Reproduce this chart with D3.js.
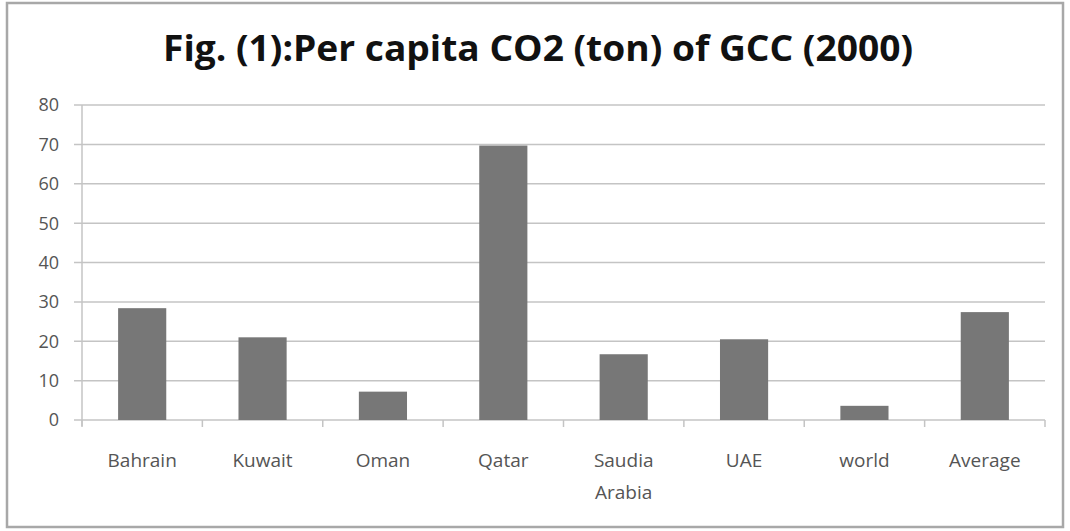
<!DOCTYPE html>
<html><head><meta charset="utf-8">
<script src="https://cdn.jsdelivr.net/npm/d3@7"></script>
<style>body{margin:0;background:#fff}svg{display:block}</style>
</head><body>
<script>
const categories = ["Bahrain","Kuwait","Oman","Qatar","Saudia Arabia","UAE","world","Average"];
const values = [28.4, 21.0, 7.2, 69.7, 16.7, 20.5, 3.6, 27.4];
const yTicks = [0,10,20,30,40,50,60,70,80];
const title = "Fig. (1):Per capita CO2 (ton) of GCC (2000)";

const W = 1070, H = 531;
const m = {left: 82, right: 25, top: 105, bottom: 111};
const svg = d3.select("body").append("svg").attr("width", W).attr("height", H);

svg.append("rect").attr("x", 0).attr("y", 0).attr("width", W).attr("height", H).attr("fill", "#fff");
svg.append("rect").attr("x", 7).attr("y", 3).attr("width", 1056).attr("height", 524)
  .attr("fill", "none").attr("stroke", "#a8a8a8").attr("stroke-width", 2.5);

const x = d3.scaleBand().domain(categories).range([m.left, W - m.right]).paddingInner(0.6).paddingOuter(0.3);
const y = d3.scaleLinear().domain([0, 80]).range([H - m.bottom, m.top]);

const g = svg.append("g");
g.selectAll("line.grid").data(yTicks).join("line")
  .attr("x1", m.left - 8).attr("x2", W - m.right)
  .attr("y1", d => y(d)).attr("y2", d => y(d))
  .attr("stroke", "#c4c4c4").attr("stroke-width", 1.5);

g.append("line").attr("x1", m.left).attr("x2", m.left).attr("y1", y(80)).attr("y2", y(0) + 6)
  .attr("stroke", "#c4c4c4").attr("stroke-width", 1.5);

g.selectAll("text.yl").data(yTicks).join("text")
  .attr("x", m.left - 23).attr("y", d => y(d)).attr("dy", "0.36em")
  .attr("text-anchor", "end").attr("font-family", "'Open Sans', sans-serif").attr("font-size", 18)
  .attr("fill", "#555").text(d => d);

const bounds = d3.range(categories.length + 1).map(i => m.left + i * (W - m.right - m.left) / categories.length);
g.selectAll("line.xt").data(bounds).join("line")
  .attr("x1", d => d).attr("x2", d => d).attr("y1", y(0)).attr("y2", y(0) + 7)
  .attr("stroke", "#c4c4c4").attr("stroke-width", 1.5);

svg.selectAll("rect.bar").data(categories).join("rect")
  .attr("x", d => x(d)).attr("width", x.bandwidth())
  .attr("y", (d, i) => y(values[i])).attr("height", (d, i) => y(0) - y(values[i]))
  .attr("fill", "#777777");

svg.selectAll("text.xl").data(categories).join("text")
  .attr("x", d => x(d) + x.bandwidth() / 2).attr("y", y(0) + 47)
  .attr("text-anchor", "middle").attr("font-family", "'Open Sans', sans-serif").attr("font-size", 19)
  .attr("fill", "#555")
  .each(function(d) {
    const parts = d.split(" ");
    const t = d3.select(this);
    parts.forEach((p, i) => t.append("tspan").attr("x", x(d) + x.bandwidth() / 2).attr("dy", i ? 32 : 0).text(p));
  });

svg.append("text").attr("x", 163).attr("y", 61).attr("text-anchor", "start")
  .attr("font-family", "'Open Sans', sans-serif").attr("font-weight", "bold").attr("font-size", 36)
  .attr("fill", "#111").attr("textLength", 750).attr("lengthAdjust", "spacingAndGlyphs").text(title);
</script>
</body></html>
